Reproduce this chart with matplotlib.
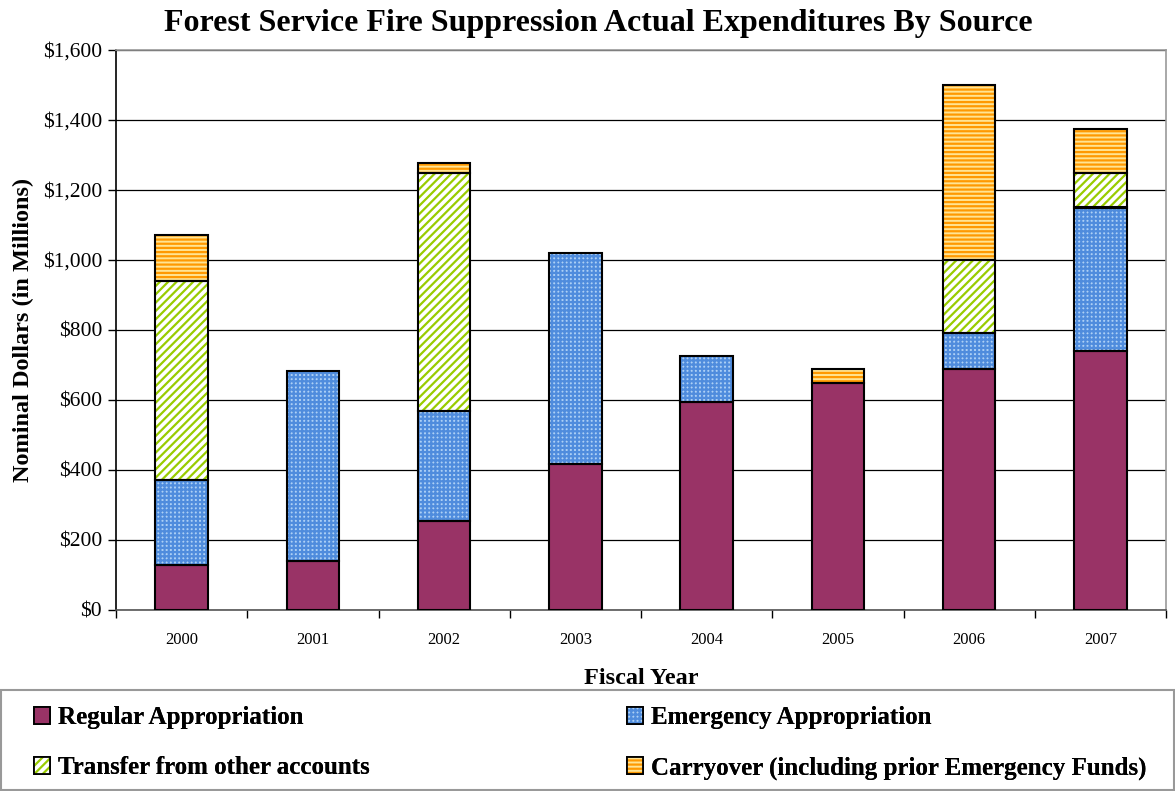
import matplotlib
matplotlib.use("Agg")
import matplotlib.pyplot as plt
from matplotlib.patches import Patch, Rectangle
from matplotlib.legend_handler import HandlerTuple
import numpy as np

years = ["2000", "2001", "2002", "2003", "2004", "2005", "2006", "2007"]
regular = [129, 140, 254, 416, 595, 648, 689, 741]
emergency = [242, 543, 315, 605, 131, 0, 102, 409]
transfer = [568, 0, 679, 0, 0, 0, 209, 100]
carryover = [133, 0, 28, 0, 0, 41, 500, 125]
series_names = ["Regular Appropriation", "Emergency Appropriation",
                "Transfer from other accounts", "Carryover (including prior Emergency Funds)"]
yticks = [0, 200, 400, 600, 800, 1000, 1200, 1400, 1600]

plt.rcParams['font.family'] = ['Liberation Serif', 'DejaVu Serif']
plt.rcParams['hatch.linewidth'] = 1.6

W, H = 1175, 791
fig = plt.figure(figsize=(W/100, H/100), dpi=100)
ax = fig.add_axes([116/W, 1-610/H, (1166-116)/W, (610-50)/H])

styles = [
    dict(face="#993366", hatch=None, hcol="#993366"),
    dict(face="#ADD0F5", hatch="++++", hcol="#4F8CDD"),
    dict(face="white", hatch="////", hcol="#99CC00"),
    dict(face="#FFE493", hatch="----", hcol="#FF9900"),
]
data = [regular, emergency, transfer, carryover]
x = np.arange(len(years))
w = 0.4
bottom = np.zeros(len(years))
for vals, st in zip(data, styles):
    vals = np.array(vals, dtype=float)
    ax.bar(x, vals, w, bottom=bottom, color=st["face"], hatch=st["hatch"],
           edgecolor=st["hcol"], linewidth=0, zorder=3)
    mask = vals > 0
    ax.bar(x[mask], vals[mask], w, bottom=bottom[mask], fill=False,
           edgecolor="black", linewidth=1.5, zorder=4)
    bottom += vals

ax.set_xlim(-0.5, len(years) - 0.5)
ax.set_ylim(0, 1600)
ax.set_yticks(yticks)
ax.set_yticklabels([f"${v:,}" for v in yticks], fontsize=15.5)
ax.yaxis.grid(True, color="black", linewidth=0.9, zorder=0)
ax.set_axisbelow(True)
ax.set_xticks(x)
ax.set_xticklabels(years, fontsize=12)
ax.set_xticks(np.arange(-0.5, len(years)), minor=True)
ax.tick_params(axis="x", which="major", length=0, pad=16)
ax.tick_params(axis="x", which="minor", length=6, direction="out", width=1)
ax.tick_params(axis="y", length=6, direction="out", width=1, pad=4)
for s in ["top", "right"]:
    ax.spines[s].set_color("#999999")
    ax.spines[s].set_linewidth(1.2)
ax.spines["left"].set_linewidth(1.2)
ax.spines["bottom"].set_linewidth(1.2)
ax.spines["bottom"].set_color("#555555")

ax.set_ylabel("Nominal Dollars (in Millions)", fontsize=17.5, fontweight="bold", labelpad=6)
ax.set_xlabel("Fiscal Year", fontsize=17.5, fontweight="bold", labelpad=14)
fig.text(0.509, 1-23/H, "Forest Service Fire Suppression Actual Expenditures By Source",
         ha="center", va="center", fontsize=23, fontweight="bold")

# legend box
fig.add_artist(Rectangle((1/W, 1/H), (W-2)/W, 100/H, transform=fig.transFigure,
                         fill=False, edgecolor="#999999", linewidth=1.5))

handles = []
for st in styles:
    p1 = Patch(facecolor=st["face"], hatch=st["hatch"], edgecolor=st["hcol"], linewidth=0)
    p2 = Patch(fill=False, edgecolor="black", linewidth=1.3)
    handles.append((p1, p2))

common = dict(handler_map={tuple: HandlerTuple(ndivide=1, pad=0)}, frameon=False,
              prop=dict(size=18, weight="bold"), handlelength=0.65, handleheight=0.65,
              handletextpad=0.3, labelspacing=1.1, borderpad=0, borderaxespad=0)
for idx, xpx in [((0, 2), 34), ((1, 3), 627)]:
    lg = fig.legend([handles[i] for i in idx], [series_names[i] for i in idx],
                    loc="upper left", bbox_to_anchor=(xpx/W, 1-706/H), **common)
    fig.add_artist(lg)

fig.savefig("out.png", dpi=100)
